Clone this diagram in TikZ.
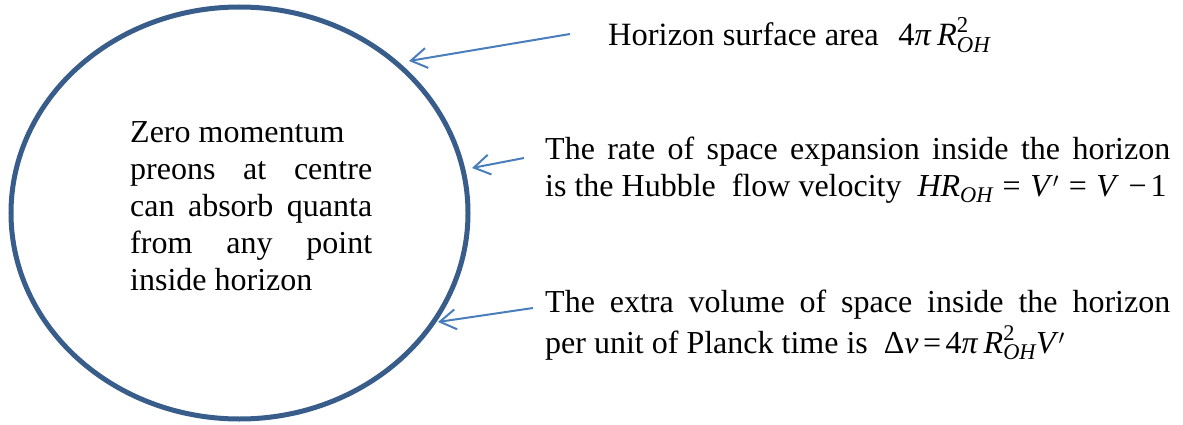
\documentclass[tikz,border=0pt]{standalone}
\usepackage{amsmath}
\usepackage{fontspec}
\setmainfont{Liberation Serif}
\usetikzlibrary{arrows.meta,shapes.geometric}
\definecolor{ellblue}{HTML}{385D8A}
\definecolor{arrblue}{HTML}{4A7EBB}
\newcommand\vi[1]{\textit{#1}}
\newcommand\ROH{$\vi{R}^{\text{2}}_{\vi{OH}}$}
\newcommand\eqs{\kern0.14em=\kern0.14em}
\newcommand\eqw{\kern0.3em=\kern0.3em}
\tikzset{
  txt/.style={inner sep=0pt, font=\fontsize{32}{37}\selectfont},
  ptr/.style={draw=arrblue, line width=2pt, -{Straight Barb[length=16pt,width=20pt,line width=2pt]}},
}
\begin{document}
\begin{tikzpicture}[x=1pt,y=-1pt]
\useasboundingbox (0,0) rectangle (1183,425);
\node[ellipse, draw=ellblue, line width=5pt, inner sep=0pt, minimum width=457pt, minimum height=412pt] (hor) at (239.5,213) {};
\node[txt, anchor=north west, text width=242pt, align=justify] (inner) at (130,121)
  {Zero momentum\newline preons at centre\linebreak can absorb quanta\linebreak from any point\linebreak inside horizon};
\node[txt, font=\fontsize{32.5}{37}\selectfont, anchor=base west] (area) at (608,46) {Horizon surface area\kern0.6em 4\vi{π}\,\ROH};
\node[txt, anchor=north west, text width=625pt, align=justify] (rate) at (545,137)
  {The rate of space expansion inside the horizon\linebreak is the Hubble\ \ flow velocity\ \ \vi{HR}$_{\vi{OH}}$\eqw\vi{V}$'$\eqw\vi{V}\kern0.3em−\kern0.12em1};
\node[txt, anchor=north west, text width=625pt, align=justify] (vol) at (545,290)
  {The extra volume of space inside the horizon\linebreak\rule{0pt}{33pt}per unit of Planck time is\kern0.5em Δ\vi{v}\eqs4\vi{π}\,\ROH\vi{V}$'$};
\coordinate (t1) at (570,34);
\coordinate (h1) at (409,61);
\coordinate (t2) at (524,158);
\coordinate (h2) at (472,168);
\coordinate (t3) at (533,308);
\coordinate (h3) at (438,322);
\draw[ptr] (t1) -- (h1);
\draw[ptr] (t2) -- (h2);
\draw[ptr] (t3) -- (h3);
\end{tikzpicture}
\end{document}
